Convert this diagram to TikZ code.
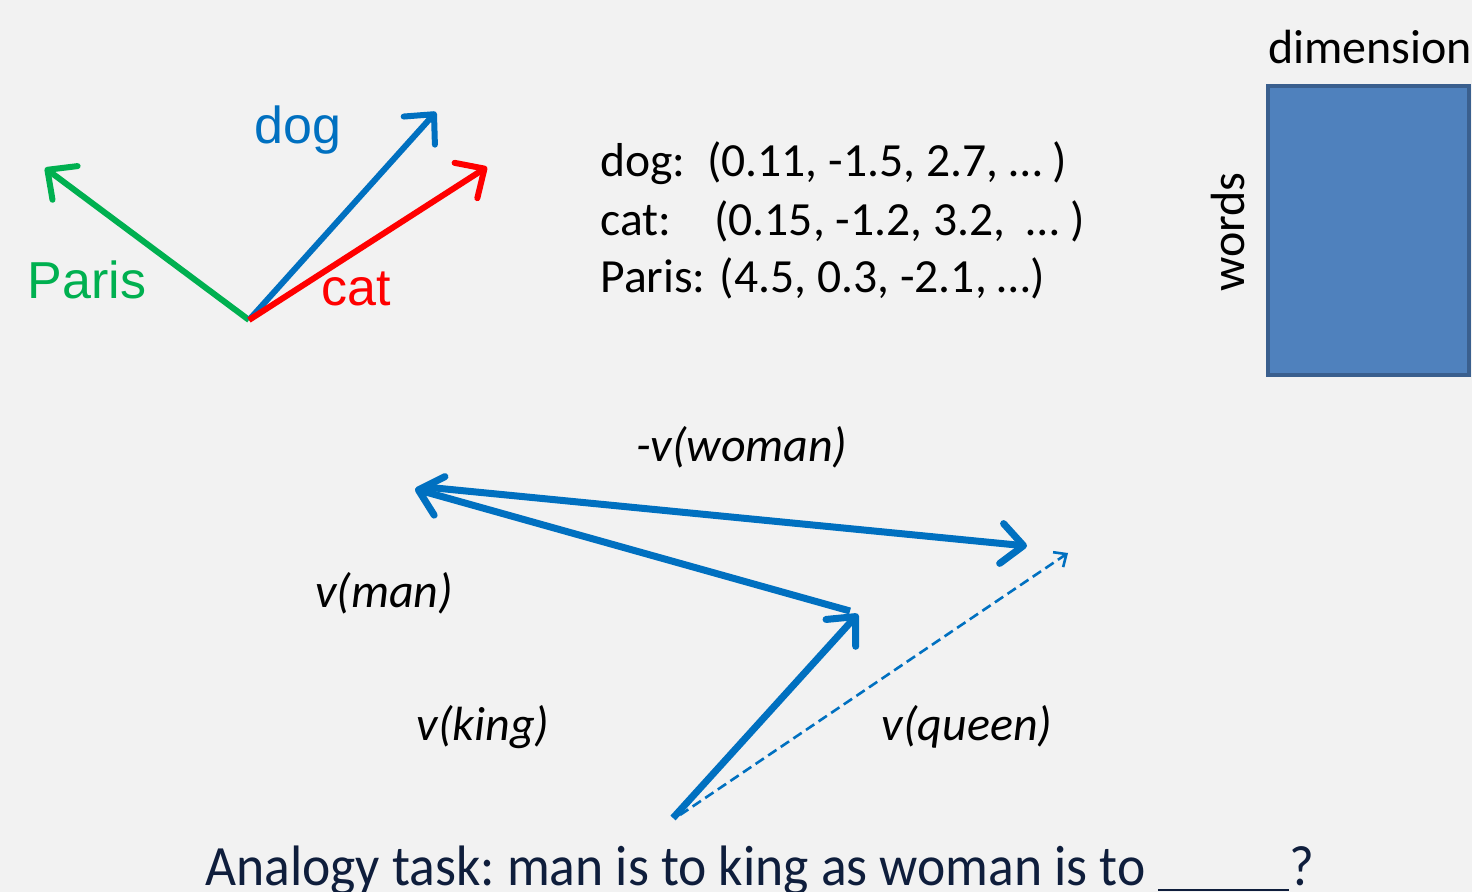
\documentclass[tikz,border=0pt]{standalone}
\usepackage{fontspec}
\setmainfont{Carlito}
\newfontfamily\arialfont{Liberation Sans}
\usetikzlibrary{arrows.meta}
\definecolor{bgrey}{HTML}{F2F2F2}
\definecolor{vblue}{HTML}{0070C0}
\definecolor{vgreen}{HTML}{00B050}
\definecolor{vred}{HTML}{FF0000}
\definecolor{boxfill}{HTML}{4F81BD}
\definecolor{boxline}{HTML}{3A5F8E}
\definecolor{navy}{HTML}{0F1E3C}
\tikzset{
  wordvec/.style={line width=3pt, -{Straight Barb[length=11pt,width=21pt,round]}},
  relvec/.style={line width=3.5pt, color=vblue, -{Straight Barb[length=11pt,width=20pt,round]}},
  guessvec/.style={line width=1.3pt, color=vblue, dash pattern=on 5pt off 2.6pt,
    -{Straight Barb[length=5pt,width=9pt]}},
  wordlabel/.style={font=\arialfont\fontsize{26}{30}\selectfont, inner sep=0pt},
  veclabel/.style={font=\itshape\fontsize{24}{28}\selectfont, inner sep=0pt},
  plain/.style={font=\fontsize{23.8}{28}\selectfont, inner sep=0pt, text=black},
}
\begin{document}
\begin{tikzpicture}[x=0.5pt,y=-0.5pt]
  \fill[bgrey] (0,0) rectangle (1472,892);
  \useasboundingbox (0,0) rectangle (1472,892);

  % word vectors from a common origin
  \coordinate (o) at (249,320);
  \coordinate (paris) at (45,168);
  \coordinate (dog) at (436,112);
  \coordinate (cat) at (487,167);
  \draw[wordvec, vgreen] (o) -- (paris);
  \draw[wordvec, vblue] (o) -- (dog);
  \draw[wordvec, vred] (o) -- (cat);
  \node[wordlabel, text=vgreen] (lparis) at (87,280) {Paris};
  \node[wordlabel, text=vblue] (ldog) at (298,130) {dog};
  \node[wordlabel, text=vred] (lcat) at (356,289) {cat};

  % coordinates of the embeddings
  \node[plain, anchor=west] (edog) at (600,163) {dog:\ \ (0.11, -1.5, 2.7, … )};
  \node[plain, anchor=west] (ecat) at (600,221) {cat:\ \ \ \ (0.15, -1.2, 3.2,\ \ … )};
  \node[plain, anchor=west] (eparis) at (600,278) {Paris: (4.5, 0.3, -2.1, …)};

  % embedding matrix
  \node[draw=boxline, line width=2pt, fill=boxfill, minimum width=100.5pt,
        minimum height=144.5pt, inner sep=0pt] (mat) at (1368.5,230.5) {};
  \node[plain, font=\fontsize{24}{28}\selectfont] (ldim) at (1370,47) {dimension};
  \node[plain, font=\fontsize{24}{28}\selectfont, rotate=90] (lwords) at (1228,232) {words};

  % analogy vectors
  \coordinate (k0) at (673,818);
  \coordinate (k1) at (858,614);
  \coordinate (m0) at (850,611);
  \coordinate (m1) at (415,489);
  \coordinate (w0) at (425,487);
  \coordinate (w1) at (1027,546);
  \coordinate (q0) at (680,815);
  \coordinate (q1) at (1068,553);
  \draw[relvec] (k0) -- (k1);
  \draw[relvec] (m0) -- (m1);
  \draw[relvec] (w0) -- (w1);
  \draw[guessvec] (q0) -- (q1);
  \node[veclabel] (lwoman) at (742,447) {-v(woman)};
  \node[veclabel] (lman) at (384,593) {v(man)};
  \node[veclabel] (lking) at (483,727) {v(king)};
  \node[veclabel] (lqueen) at (967,727) {v(queen)};

  \node[plain, text=navy, font=\fontsize{28.5}{34}\selectfont\frenchspacing, xscale=0.94,
        anchor=base west] (task) at (205,885)
    {Analogy task: man is to king as woman is to \rule[-3pt]{70pt}{1.2pt}?};
\end{tikzpicture}
\end{document}
